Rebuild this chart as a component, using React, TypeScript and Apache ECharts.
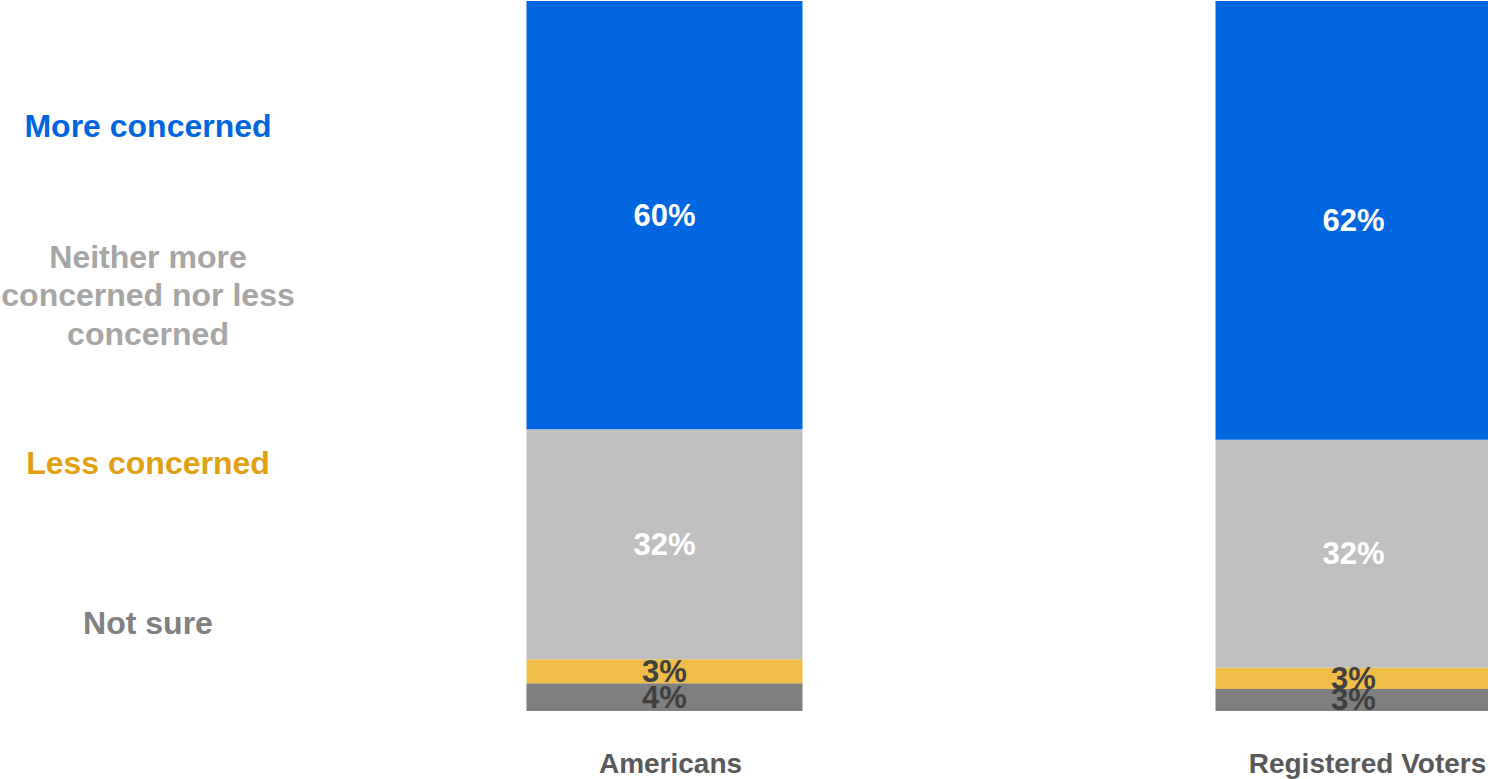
import React, { useEffect, useRef } from "react";
import * as echarts from "echarts";

const categories = ["Americans", "Registered Voters"];
const seriesNames = ["Not sure", "Less concerned", "Neither more concerned nor less concerned", "More concerned"];
const notSure = [3.9, 3.1];
const lessConcerned = [3.4, 3.0];
const neither = [32.4, 32.1];
const moreConcerned = [60.3, 61.8];
const legendLabels = ["More concerned", "Neither more\nconcerned nor less\nconcerned", "Less concerned", "Not sure"];

const FONT = "'Liberation Sans', Arial, sans-serif";

export default function App() {
  const ref = useRef<HTMLDivElement>(null);
  useEffect(() => {
    document.body.style.margin = "0";
    const chart = echarts.init(ref.current!, undefined, { renderer: "svg" });
    const labelBase = (color: string) => ({
      show: true,
      position: "inside",
      color,
      fontFamily: FONT,
      fontWeight: "bold",
      fontSize: 31,
      formatter: (p: any) => Math.round(p.value) + "%",
    });
    const mk = (name: string, data: number[], color: string, labelColor: string) => ({
      name,
      type: "bar",
      stack: "total",
      data,
      barWidth: 276,
      itemStyle: { color },
      label: labelBase(labelColor),
    });
    chart.setOption({
      animation: false,
      grid: { left: 320, top: 1, bottom: 68, right: -210, outerBoundsMode: "none", containLabel: false },
      xAxis: {
        type: "category",
        data: categories,
        axisLine: { show: false },
        axisTick: { show: false },
        axisLabel: {
          margin: 38,
          verticalAlign: "top",
          hideOverlap: false,
          formatter: (v: string) => (v === "Americans" ? "{a|" + v + "}" : "{b|" + v + "}"),
          rich: {
            a: { fontFamily: FONT, fontWeight: "bold", fontSize: 28, color: "#595959", padding: [0, 0, 0, 12] },
            b: { fontFamily: FONT, fontWeight: "bold", fontSize: 28, color: "#595959", padding: [0, 0, 0, 28] },
          },
        },
      },
      yAxis: { type: "value", min: 0, max: 100, show: false, splitLine: { show: false } },
      series: [
        mk(seriesNames[0], notSure, "#7F7F7F", "#404040"),
        mk(seriesNames[1], lessConcerned, "#F0BE48", "#404040"),
        mk(seriesNames[2], neither, "#BFBFBF", "#FFFFFF"),
        mk(seriesNames[3], moreConcerned, "#0066E0", "#FFFFFF"),
      ],
      graphic: [
        { type: "text", x: 148, y: 126, style: { text: legendLabels[0], fill: "#0066E0", font: "bold 32px " + FONT, textAlign: "center", textVerticalAlign: "middle" } },
        { type: "text", x: 148, y: 295, style: { text: legendLabels[1], fill: "#A6A6A6", font: "bold 32px " + FONT, textAlign: "center", textVerticalAlign: "middle", lineHeight: 38.5 } },
        { type: "text", x: 148, y: 463, style: { text: legendLabels[2], fill: "#E0A010", font: "bold 32px " + FONT, textAlign: "center", textVerticalAlign: "middle" } },
        { type: "text", x: 148, y: 623, style: { text: legendLabels[3], fill: "#808080", font: "bold 32px " + FONT, textAlign: "center", textVerticalAlign: "middle" } },
      ],
    });
    return () => chart.dispose();
  }, []);
  return <div ref={ref} style={{ width: 1488, height: 779 }} />;
}
